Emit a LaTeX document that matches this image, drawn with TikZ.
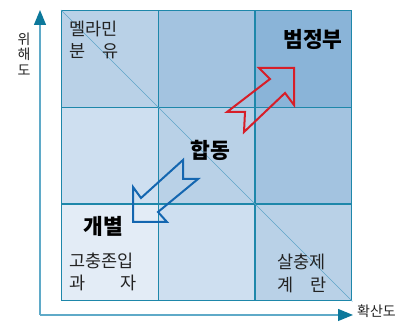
\documentclass[tikz,border=0pt]{standalone}
\usepackage{fontspec}
\newfontfamily\kr{Noto Sans CJK KR}
\usetikzlibrary{arrows.meta}
\definecolor{gridc}{RGB}{30,135,170}
\definecolor{axisc}{RGB}{95,170,200}
\definecolor{axhead}{RGB}{12,120,155}
\definecolor{diagc}{RGB}{95,165,200}
\definecolor{cA}{RGB}{185,209,231}
\definecolor{cB}{RGB}{163,195,224}
\definecolor{cC}{RGB}{138,180,216}
\definecolor{cD}{RGB}{206,223,240}
\definecolor{cE}{RGB}{227,236,246}
\definecolor{txtc}{RGB}{35,35,35}
\definecolor{redc}{RGB}{215,30,40}
\definecolor{bluec}{RGB}{20,102,176}
\tikzset{
  cell/.style={draw=gridc, line width=1.4pt, minimum width=96.67pt, minimum height=96.67pt, inner sep=0pt, anchor=north west},
  lbl/.style={font=\kr\fontsize{17.5}{17.5}\selectfont, text=txtc, inner sep=0pt, anchor=west},
  biglbl/.style={font=\kr\bfseries\fontsize{21.5}{21.5}\selectfont, text=black, inner sep=0pt},
  axlbl/.style={font=\kr\fontsize{14}{15.5}\selectfont, text=txtc, inner sep=0pt, align=center},
  axisline/.style={draw=axisc, line width=1.2pt, -{Triangle[length=15pt,width=12pt,color=axhead]}},
  zarrow/.style={line width=2pt, line join=miter}
}
\begin{document}
\begin{tikzpicture}[x=1pt,y=-1pt]
\useasboundingbox (0,0) rectangle (397,323);
% cells
\node[cell, fill=cA] (c11) at (61,10) {};
\node[cell, fill=cB] (c12) at (157.67,10) {};
\node[cell, fill=cC] (c13) at (254.33,10) {};
\node[cell, fill=cD] (c21) at (61,106.67) {};
\node[cell, fill=cA] (c22) at (157.67,106.67) {};
\node[cell, fill=cB] (c23) at (254.33,106.67) {};
\node[cell, fill=cE] (c31) at (61,203.33) {};
\node[cell, fill=cD] (c32) at (157.67,203.33) {};
\node[cell, fill=cA] (c33) at (254.33,203.33) {};
% diagonal
\draw[diagc, line width=0.6pt] (c11.north west) -- (c33.south east);
% axes
\coordinate (origin) at (40,315);
\coordinate (ytip) at (40,10);
\coordinate (xtip) at (353,315);
\draw[axisline] (origin) -- (ytip);
\draw[axisline] (origin) -- (xtip);
\node[axlbl] (ylab) at (24,54) {위\\해\\도};
\node[axlbl, anchor=west] (xlab) at (357,311) {확산도};
% cell texts
\node[lbl] (t1a) at (69,29) {멜라민};
\node[lbl] (t1b) at (69,51) {분　유};
\node[lbl] (t2a) at (69,261) {고충존입};
\node[lbl] (t2b) at (69,283) {과　　자};
\node[lbl] (t3a) at (277,262) {살충제};
\node[lbl] (t3b) at (277,285) {계　란};
\node[biglbl] (b1) at (313,39) {범정부};
\node[biglbl] (b2) at (210,150) {합동};
\node[biglbl] (b3) at (103,226) {개별};
% arrows
\draw[zarrow, draw=redc] (294,68) -- (259,68) -- (270,79) -- (227,112) -- (245,112) -- (244,132) -- (285,93) -- (294,105) -- cycle;
\draw[zarrow, draw=bluec] (133,222) -- (167,222) -- (158,212) -- (198,179) -- (183,179) -- (183,160) -- (141,198) -- (133,187) -- cycle;
\end{tikzpicture}
\end{document}
